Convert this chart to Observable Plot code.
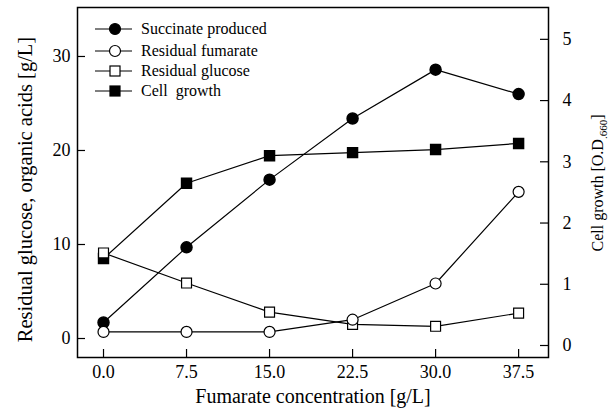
<!DOCTYPE html>
<html><head><meta charset="utf-8">
<script src="https://cdn.jsdelivr.net/npm/d3@7"></script>
<script src="https://cdn.jsdelivr.net/npm/@observablehq/plot@0.6"></script>
<style>body{margin:0;background:#fff} #chart{width:616px;height:419px}</style>
</head><body><div id="chart"></div>
<script>
const fumarateConc = [0, 7.5, 15, 22.5, 30, 37.5];
const succinateProduced = [1.7, 9.7, 16.9, 23.4, 28.6, 26.0];
const residualFumarate = [0.7, 0.7, 0.7, 2.0, 5.85, 15.6];
const residualGlucose = [9.1, 5.9, 2.8, 1.5, 1.3, 2.7];
const cellGrowth = [1.42, 2.65, 3.1, 3.15, 3.2, 3.3];
const xTicks = [0, 7.5, 15, 22.5, 30, 37.5];
const leftTicks = [0, 10, 20, 30];
const rightTicks = [0, 1, 2, 3, 4, 5];
const legendLabels = ["Succinate produced", "Residual fumarate", "Residual glucose", "Cell  growth"];

const W = 616, H = 419;
const mL = 77, mR = 68, mT = 7, mB = 62;
const pw = W - mL - mR, ph = H - mT - mB;
const xDomain = [-2.35, 40.2];
const leftDomain = [-2.02, 35.21];
const rightDomain = [-0.196, 5.52];
const conv = d3.scaleLinear().domain(rightDomain).range(leftDomain);
const FONT = '"Liberation Serif", "Times New Roman", serif';

const rows = (ys, f = d => d) => fumarateConc.map((x, i) => ({x, y: f(ys[i])}));
const succ = rows(succinateProduced);
const fum = rows(residualFumarate);
const glu = rows(residualGlucose);
const cell = rows(cellGrowth, conv);

const lineOpt = {x: "x", y: "y", stroke: "black", strokeWidth: 1.2};
const chart = Plot.plot({
  width: W, height: H,
  marginLeft: mL, marginRight: mR, marginTop: mT, marginBottom: mB,
  x: {domain: xDomain},
  y: {domain: leftDomain},
  style: {fontFamily: FONT, fontSize: "18px", color: "black", background: "white"},
  marks: [
    Plot.frame({stroke: "black", strokeWidth: 1.5}),
    Plot.tickY(leftTicks, {y: d => d, insetRight: pw - 8, stroke: "black", strokeWidth: 1.2}),
    Plot.tickY(rightTicks.map(conv), {y: d => d, insetLeft: pw - 8, stroke: "black", strokeWidth: 1.2}),
    Plot.tickX(xTicks, {x: d => d, insetTop: ph - 8, stroke: "black", strokeWidth: 1.2}),
    Plot.axisX(xTicks, {tickSize: 0, tickPadding: 8, tickFormat: d3.format(".1f"), label: null}),
    Plot.axisY(leftTicks, {anchor: "left", tickSize: 0, tickPadding: 7, label: null}),
    Plot.axisY(rightTicks.map(conv), {anchor: "right", tickSize: 0, tickPadding: 14, label: null,
      tickFormat: d => String(Math.round(conv.invert(d)))}),
    Plot.line(cell, lineOpt),
    Plot.dot(cell, {x: "x", y: "y", symbol: "square", r: 5.6, fill: "black", stroke: "black"}),
    Plot.line(glu, lineOpt),
    Plot.dot(glu, {x: "x", y: "y", symbol: "square", r: 5.6, fill: "white", stroke: "black", strokeWidth: 1.2}),
    Plot.line(succ, lineOpt),
    Plot.dot(succ, {x: "x", y: "y", r: 5.5, fill: "black", stroke: "black"}),
    Plot.line(fum, lineOpt),
    Plot.dot(fum, {x: "x", y: "y", r: 5.5, fill: "white", stroke: "black", strokeWidth: 1.2}),
    Plot.text(["Residual glucose, organic acids [g/L]"], {frameAnchor: "left", dx: -52, dy: 7, rotate: -90, textAnchor: "middle", fontSize: 20.5}),
    Plot.text(["Fumarate concentration [g/L]"], {frameAnchor: "bottom", dy: 45, textAnchor: "middle", fontSize: 20})
  ]
});
document.getElementById("chart").appendChild(chart);

const svg = d3.select(chart);
// right axis title with subscript
const rt = svg.append("text")
  .attr("transform", `translate(${W - 13},${mT + ph / 2 + 1}) rotate(-90)`)
  .attr("text-anchor", "middle")
  .style("font-family", FONT).style("font-size", "16px").attr("fill", "black");
rt.append("tspan").text("Cell growth [O.D");
rt.append("tspan").style("font-size", "11px").attr("dy", 4).text(".660");
rt.append("tspan").attr("dy", -4).text("]");

// legend
const lg = svg.append("g").style("font-family", FONT).style("font-size", "16px").attr("fill", "black").attr("text-anchor", "start");
const rowsY = [29, 51, 71, 91];
const kinds = ["circleFilled", "circleOpen", "squareOpen", "squareFilled"];
legendLabels.forEach((lab, i) => {
  const y = rowsY[i];
  lg.append("line").attr("x1", 95).attr("x2", 132).attr("y1", y).attr("y2", y).attr("stroke", "black").attr("stroke-width", 1.2);
  const k = kinds[i];
  const filled = k.endsWith("Filled");
  if (k.startsWith("circle")) {
    lg.append("circle").attr("cx", 115).attr("cy", y).attr("r", 5.5)
      .attr("fill", filled ? "black" : "white").attr("stroke", "black").attr("stroke-width", 1.2);
  } else {
    lg.append("rect").attr("x", 115 - 5).attr("y", y - 5).attr("width", 10).attr("height", 10)
      .attr("fill", filled ? "black" : "white").attr("stroke", "black").attr("stroke-width", 1.2);
  }
  lg.append("text").attr("x", 141).attr("y", y).attr("dy", "0.32em").style("white-space", "pre").text(lab);
});
</script>
</body></html>
